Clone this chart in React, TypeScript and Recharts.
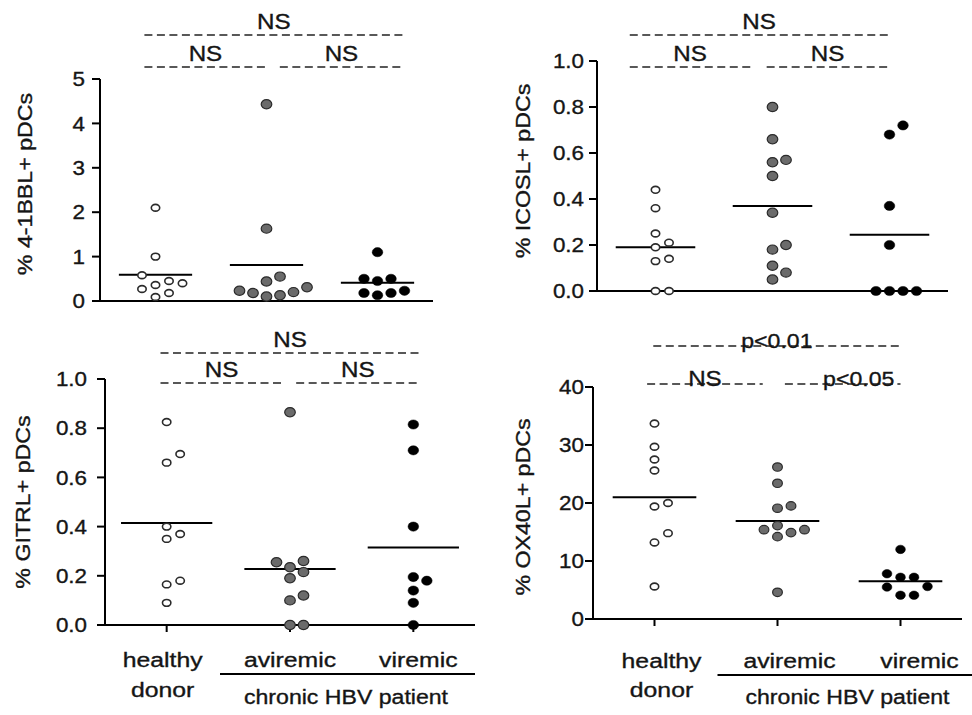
import { ScatterChart, Scatter, XAxis, YAxis, ReferenceLine } from 'recharts';

const groupIds = [1, 2, 3];
const groupLabels = [['healthy', 'donor'], ['aviremic'], ['viremic']];
const patientLabel = 'chronic HBV patient';

// % 4-1BBL+ pDCs
const bblHealthy = [2.1, 1.0, 0.58, 0.45, 0.4, 0.36, 0.27, 0.18, 0.09];
const bblAviremic = [4.43, 1.63, 0.55, 0.44, 0.31, 0.23, 0.2, 0.18, 0.13, 0.1];
const bblViremic = [1.1, 0.5, 0.5, 0.45, 0.23, 0.18, 0.18, 0.13];
const bblMedians = [0.59, 0.81, 0.41];
const bblTicks = [0, 1, 2, 3, 4, 5];
const bblSig = ['NS', 'NS', 'NS']; // 1 vs 2, 2 vs 3, 1 vs 3

// % ICOSL+ pDCs
const icoslHealthy = [0.44, 0.36, 0.25, 0.21, 0.19, 0.14, 0.13, 0, 0];
const icoslAviremic = [0.8, 0.66, 0.57, 0.56, 0.5, 0.34, 0.2, 0.18, 0.11, 0.08, 0.05];
const icoslViremic = [0.72, 0.68, 0.37, 0.2, 0, 0, 0, 0];
const icoslMedians = [0.19, 0.37, 0.245];
const icoslTicks = [0, 0.2, 0.4, 0.6, 0.8, 1.0];
const icoslSig = ['NS', 'NS', 'NS'];

// % GITRL+ pDCs
const gitrlHealthy = [0.825, 0.695, 0.66, 0.4, 0.37, 0.35, 0.18, 0.165, 0.09];
const gitrlAviremic = [0.865, 0.26, 0.255, 0.235, 0.215, 0.19, 0.12, 0.1, 0, 0];
const gitrlViremic = [0.815, 0.71, 0.4, 0.195, 0.18, 0.14, 0.09, 0];
const gitrlMedians = [0.415, 0.228, 0.315];
const gitrlTicks = [0, 0.2, 0.4, 0.6, 0.8, 1.0];
const gitrlSig = ['NS', 'NS', 'NS'];

// % OX40L+ pDCs
const ox40lHealthy = [33.7, 29.7, 27.5, 25.6, 20.0, 19.4, 14.8, 13.2, 5.6];
const ox40lAviremic = [26.2, 23.4, 19.5, 19.1, 16.1, 15.4, 15.4, 14.9, 14.2, 4.6];
const ox40lViremic = [12.0, 7.8, 7.2, 7.2, 5.6, 5.5, 4.1, 4.1];
const ox40lMedians = [21.0, 16.9, 6.5];
const ox40lTicks = [0, 10, 20, 30, 40];
const ox40lSig = ['NS', 'p<0.05', 'p<0.01'];

const FONT = "'Liberation Sans', Arial, Helvetica, sans-serif";
const INK = '#151515';
const axisStyle = { stroke: '#000', strokeWidth: 2 };

const markers = [
  { fill: '#fff', stroke: '#2b2b2b', sw: 1.6, rx: 4.2, ry: 3.4 },
  { fill: '#6b6b6b', stroke: '#2b2b2b', sw: 1.2, rx: 5.3, ry: 4.6 },
  { fill: '#000', stroke: '#000', sw: 0.5, rx: 5.3, ry: 4.6 },
];

function SText({ x, y, text, size = 20, sx = 1.15, anchor = 'middle', rotate = 0, dy = '0' }: any) {
  return (
    <text
      transform={`translate(${x},${y}) rotate(${rotate}) scale(${sx},1)`}
      textAnchor={anchor}
      dy={dy}
      fontSize={size}
      fontFamily={FONT}
      fill={INK}
      stroke={INK}
      strokeWidth={0.35}
    >
      {text}
    </text>
  );
}

// simple beeswarm: spread points sideways when they would overlap
function swarm(values: number[], group: number, pxPerUnit: number, laneUnits: number, minSep = 10) {
  const lanes = [0, 1, -1, 2, -2, 3, -3, 4, -4];
  const placed: { lane: number; py: number }[] = [];
  return [...values]
    .sort((a, b) => a - b)
    .map((v) => {
      const py = v * pxPerUnit;
      const lane = lanes.find((l) => placed.every((p) => p.lane !== l || Math.abs(p.py - py) >= minSep)) ?? 0;
      placed.push({ lane, py });
      return { x: group + lane * laneUnits, y: v };
    });
}

const panels = [
  {
    box: { x: 0, y: 0, w: 480, h: 320 },
    plot: { l: 100, r: 433, t: 79, b: 301 },
    max: 5, ticks: bblTicks, decimals: 0, tickMargin: 7,
    yLabel: '% 4-1BBL+ pDCs', yLabelAt: [25, 184],
    values: [bblHealthy, bblAviremic, bblViremic], medians: bblMedians, half: 0.33,
    sig: bblSig, rows: [67, 35], textOff: [-6.5, -6.5], sigDx: [0, 0, 0],
    spans: [[0.9, 2.0], [2.12, 3.23], [0.9, 3.23]],
    cats: null, mScale: 1,
  },
  {
    box: { x: 480, y: 0, w: 492, h: 320 },
    plot: { l: 117, r: 468, t: 61, b: 291 },
    max: 1, ticks: icoslTicks, decimals: 1, tickMargin: 5,
    yLabel: '% ICOSL+ pDCs', yLabelAt: [43, 171],
    values: [icoslHealthy, icoslAviremic, icoslViremic], medians: icoslMedians, half: 0.34,
    sig: icoslSig, rows: [67, 35], textOff: [-6.5, -6.5], sigDx: [0, 0, 0],
    spans: [[0.78, 1.81], [1.95, 2.99], [0.78, 2.99]],
    cats: null, mScale: 1,
  },
  {
    box: { x: 0, y: 320, w: 480, h: 395 },
    plot: { l: 105, r: 475, t: 59, b: 305 },
    max: 1, ticks: gitrlTicks, decimals: 1, tickMargin: 10,
    yLabel: '% GITRL+  pDCs', yLabelAt: [23, 182],
    values: [gitrlHealthy, gitrlAviremic, gitrlViremic], medians: gitrlMedians, half: 0.37,
    sig: gitrlSig, rows: [63, 33], textOff: [-6.5, -6.5], sigDx: [0, 0, 0],
    spans: [[0.95, 1.94], [2.05, 3.05], [0.95, 3.05]],
    cats: { dx: [-4, 0, 5], line1: 347, line2: 377, groupY: 354, groupFrom: -70, groupTo: 185, groupText: 384, groupDx: 56 },
    mScale: 1,
  },
  {
    box: { x: 480, y: 320, w: 492, h: 395 },
    plot: { l: 113, r: 482, t: 67, b: 299 },
    max: 40, ticks: ox40lTicks, decimals: 0, tickMargin: 1,
    yLabel: '% OX40L+ pDCs', yLabelAt: [43, 187],
    values: [ox40lHealthy, ox40lAviremic, ox40lViremic], medians: ox40lMedians, half: 0.34,
    sig: ox40lSig, rows: [64, 26], textOff: [2, 2], sigDx: [0, 16, 0],
    spans: [[0.94, 1.88], [2.06, 3.0], [0.99, 3.0]],
    cats: { dx: [7, 12, 19], line1: 348, line2: 377, groupY: 355, groupFrom: -60, groupTo: 200, groupText: 384, groupDx: 70 },
    mScale: 0.92,
  },
];

function Panel({ cfg }: { cfg: any }) {
  const { box, plot, max, ticks, decimals, tickMargin, cats } = cfg;
  const plotW = plot.r - plot.l;
  const plotH = plot.b - plot.t;
  const yAxisW = 60;
  const xAxisH = cats ? 80 : 15;
  const margin = { left: plot.l - yAxisW, right: box.w - plot.r, top: plot.t, bottom: box.h - plot.b - xAxisH };
  const pxPerUnit = plotH / max;
  const laneUnits = 13.5 / (plotW / 3);
  const rowValue = (py: number) => (max * (plot.b - py)) / plotH;

  const renderYTick = (p: any) => (
    <SText x={p.x} y={p.y} text={Number(p.payload.value).toFixed(decimals)} anchor="end" dy="0.36em" size={20} sx={1.12} />
  );

  const renderCat = (p: any) => {
    const i = groupIds.indexOf(p.payload.value);
    const x = p.x + cats.dx[i];
    return (
      <g>
        {groupLabels[i].map((t, k) => (
          <SText key={t} x={x} y={k === 0 ? cats.line1 : cats.line2} text={t} size={21} sx={1.18} />
        ))}
        {i === 1 && (
          <g>
            <line x1={p.x + cats.groupFrom} x2={p.x + cats.groupTo} y1={cats.groupY} y2={cats.groupY} stroke="#000" strokeWidth={2} />
            <SText x={p.x + cats.groupDx} y={cats.groupText} text={patientLabel} size={21} sx={1.1} />
          </g>
        )}
      </g>
    );
  };

  const sigLabel = (text: string, off: number, dx: number) => (props: any) => {
    const vb = props.viewBox || {};
    const x0 = vb.x ?? vb.x1 ?? 0;
    const w = vb.width ?? ((vb.x2 ?? x0) - x0);
    const y0 = vb.y ?? vb.y1 ?? 0;
    return <SText x={x0 + w / 2 + dx} y={y0 + off} text={text} size={text === 'NS' ? 22 : 21} sx={1.1} />;
  };

  const pairs = [0, 1, 2];

  return (
    <div style={{ position: 'absolute', left: box.x, top: box.y, width: box.w, height: box.h }}>
      <ScatterChart width={box.w} height={box.h} margin={margin} style={{ overflow: 'visible' }}>
        <XAxis
          type="number"
          dataKey="x"
          domain={[0.5, 3.5]}
          ticks={groupIds}
          interval={0}
          allowDataOverflow
          height={xAxisH}
          tickSize={7}
          axisLine={axisStyle}
          tickLine={axisStyle}
          tick={cats ? renderCat : false}
        />
        <YAxis
          type="number"
          dataKey="y"
          domain={[0, max]}
          ticks={ticks}
          interval={0}
          width={yAxisW}
          tickSize={8}
          tickMargin={tickMargin}
          axisLine={axisStyle}
          tickLine={axisStyle}
          tick={renderYTick}
        />
        {cfg.values.map((vals: number[], i: number) => {
          const m = markers[i];
          const s = i === 0 ? 1 : cfg.mScale;
          return (
            <Scatter
              key={i}
              data={swarm(vals, groupIds[i], pxPerUnit, laneUnits)}
              isAnimationActive={false}
              shape={(p: any) => (
                <ellipse cx={p.cx} cy={p.cy} rx={m.rx * s} ry={m.ry * s} fill={m.fill} stroke={m.stroke} strokeWidth={m.sw} />
              )}
            />
          );
        })}
        {cfg.medians.map((v: number, i: number) => (
          <ReferenceLine
            key={`m${i}`}
            segment={[{ x: groupIds[i] - cfg.half, y: v }, { x: groupIds[i] + cfg.half, y: v }]}
            stroke="#000"
            strokeWidth={2}
          />
        ))}
        {pairs.map((k) => {
          const py = k === 2 ? cfg.rows[1] : cfg.rows[0];
          const off = k === 2 ? cfg.textOff[1] : cfg.textOff[0];
          const yv = rowValue(py);
          const [a, b] = cfg.spans[k];
          return (
            <ReferenceLine
              key={`s${k}`}
              segment={[{ x: a, y: yv }, { x: b, y: yv }]}
              ifOverflow="visible"
              stroke="#222"
              strokeWidth={1.6}
              strokeDasharray="8 4.5"
              label={{ content: sigLabel(cfg.sig[k], off, cfg.sigDx[k]) }}
            />
          );
        })}
      </ScatterChart>
      <svg width={box.w} height={box.h} style={{ position: 'absolute', left: 0, top: 0, pointerEvents: 'none' }}>
        <SText x={cfg.yLabelAt[0]} y={cfg.yLabelAt[1]} text={cfg.yLabel} rotate={-90} dy="0.35em" size={20} sx={1.16} />
      </svg>
    </div>
  );
}

export default function App() {
  return (
    <div style={{ position: 'absolute', left: 0, top: 0, width: 972, height: 715, background: '#fff' }}>
      {panels.map((cfg, i) => (
        <Panel key={i} cfg={cfg} />
      ))}
    </div>
  );
}
